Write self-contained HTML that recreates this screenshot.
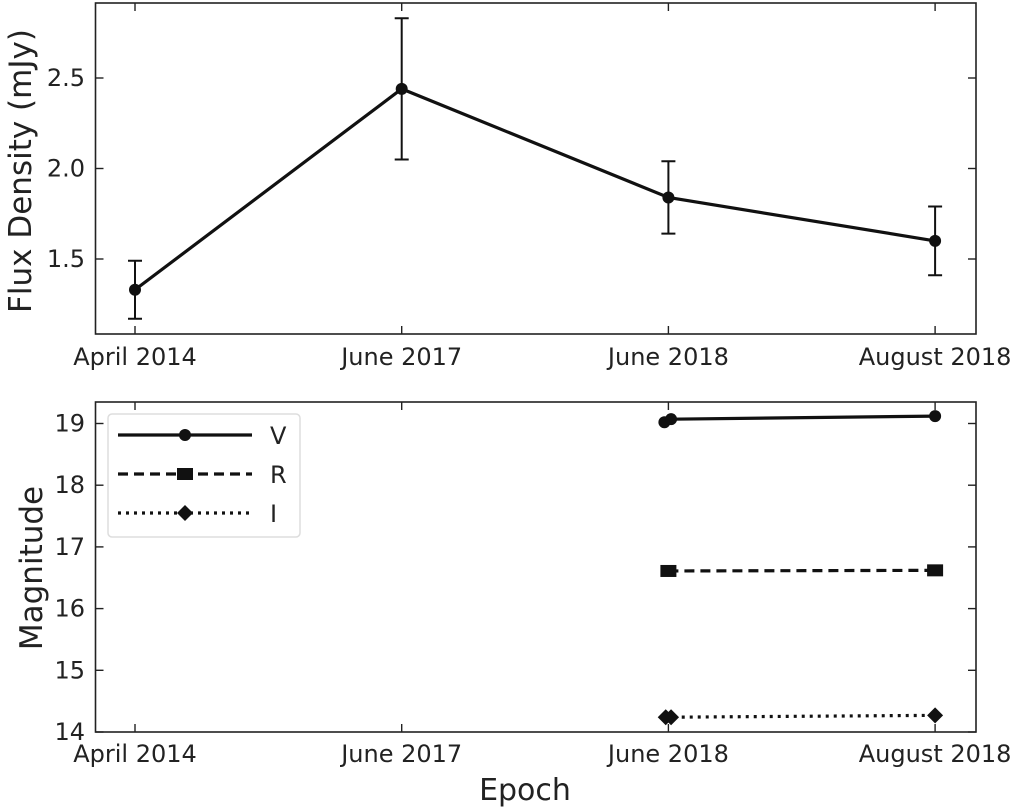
<!DOCTYPE html>
<html><head><meta charset="utf-8"><style>
html,body{margin:0;padding:0;background:#fff;}
svg{display:block;font-family:"DejaVu Sans","Liberation Sans",sans-serif;}
</style></head><body>
<svg id="chart" width="1020" height="811" viewBox="0 0 1020 811" xmlns="http://www.w3.org/2000/svg"></svg>
<script>
const epochLabels = ["April 2014","June 2017","June 2018","August 2018"];
const fluxX = [0,1,2,3];
const fluxVals = [1.33,2.44,1.84,1.60];
const fluxErr = [0.16,0.39,0.20,0.19];
const fluxTicks = [1.5,2.0,2.5];
const vX = [1.985,2.01,3];
const vVals = [19.02,19.07,19.12];
const rX = [2.0,3];
const rVals = [16.61,16.62];
const iX = [1.99,2.01,3];
const iVals = [14.24,14.24,14.27];
const magTicks = [14,15,16,17,18,19];

const NS="http://www.w3.org/2000/svg";
const svg=document.getElementById('chart');
function mk(tag,attrs,parent){const e=document.createElementNS(NS,tag);for(const k in attrs)e.setAttribute(k,attrs[k]);(parent||svg).appendChild(e);return e;}
const L=95.5,R=976;
const xS=i=>135+i*266.7;
const T1=3,B1=334;
const y1=v=>168.5-(v-2.0)*181;
const T2=402,B2=732;
const y2=v=>732-(v-14)*61.7;

function axesBox(top,bot,name){
  const r=mk('rect',{x:L,y:top,width:R-L,height:bot-top,fill:'none',stroke:'#222','stroke-width':1.6});
  
  
}
function xticks(top,bot,ly,grp){
  epochLabels.forEach((lab,i)=>{
    const x=xS(i);
    mk('line',{x1:x,x2:x,y1:bot,y2:bot-8,stroke:'#222','stroke-width':1.4},grp);
    mk('line',{x1:x,x2:x,y1:top,y2:top+8,stroke:'#222','stroke-width':1.4},grp);
    const t=mk('text',{x:x,y:ly,'text-anchor':'middle','font-size':24,fill:'#222'},grp);
    t.textContent=lab;
    
    
  });
}
function yticks(ticks,fy,fmt,grp){
  ticks.forEach(v=>{
    const y=fy(v);
    mk('line',{x1:L,x2:L+8,y1:y,y2:y,stroke:'#222','stroke-width':1.4},grp);
    mk('line',{x1:R,x2:R-8,y1:y,y2:y,stroke:'#222','stroke-width':1.4},grp);
    const t=mk('text',{x:85,y:y+8,'text-anchor':'end','font-size':24,fill:'#222'},grp);
    t.textContent=fmt(v);
    
    
  });
}
const g1=mk('g',{});


axesBox(T1,B1,'flux-axes');
xticks(T1,B1,365,g1);
yticks(fluxTicks,y1,v=>v.toFixed(1),g1);
const yl1=mk('text',{x:0,y:0,transform:'translate(31,171) rotate(-90)','text-anchor':'middle','font-size':31,fill:'#222'},g1);
yl1.textContent='Flux Density (mJy)';


const fl=mk('polyline',{points:fluxX.map((x,i)=>xS(x)+','+y1(fluxVals[i])).join(' '),fill:'none',stroke:'#111','stroke-width':3.2},g1);


fluxX.forEach((x,i)=>{
  const cx=xS(x),hi=y1(fluxVals[i]+fluxErr[i]),lo=y1(fluxVals[i]-fluxErr[i]);
  const eb=mk('path',{d:`M${cx},${hi}V${lo}M${cx-7},${hi}H${cx+7}M${cx-7},${lo}H${cx+7}`,stroke:'#111','stroke-width':2,fill:'none'},g1);
  
  
  const c=mk('circle',{cx:cx,cy:y1(fluxVals[i]),r:6,fill:'#111'},g1);
  
  
});
const g2=mk('g',{});


axesBox(T2,B2,'magnitude-axes');
xticks(T2,B2,762,g2);
yticks(magTicks,y2,v=>String(v),g2);
const yl2=mk('text',{x:0,y:0,transform:'translate(42,568) rotate(-90)','text-anchor':'middle','font-size':31,fill:'#222'},g2);
yl2.textContent='Magnitude';


const xl=mk('text',{x:525,y:800,'text-anchor':'middle','font-size':30,fill:'#222'},g2);
xl.textContent='Epoch';



function marker(kind,cx,cy,grp){
  let m;
  if(kind==='o') m=mk('circle',{cx:cx,cy:cy,r:6,fill:'#111'},grp);
  else if(kind==='s') m=mk('rect',{x:cx-8,y:cy-6,width:16,height:12,fill:'#111'},grp);
  else m=mk('path',{d:`M${cx},${cy-8}L${cx+8},${cy}L${cx},${cy+8}L${cx-8},${cy}Z`,fill:'#111'},grp);
  return m;
}
const series=[
  {n:'V',xs:vX,vs:vVals,dash:'',mk:'o'},
  {n:'R',xs:rX,vs:rVals,dash:'10,6',mk:'s'},
  {n:'I',xs:iX,vs:iVals,dash:'3,5',mk:'d'}
];
series.forEach(s=>{
  const ln=mk('polyline',{points:s.xs.map((x,i)=>xS(x)+','+y2(s.vs[i])).join(' '),fill:'none',stroke:'#111','stroke-width':3.2,'stroke-dasharray':s.dash},g2);
  
  
  s.xs.forEach((x,i)=>{
    const m=marker(s.mk,xS(x),y2(s.vs[i]),g2);
    
    
  });
});
const lg=mk('g',{});


mk('rect',{x:108,y:414,width:192,height:123,rx:4,fill:'#fff',stroke:'#ddd','stroke-width':1.5},lg);
series.forEach((s,k)=>{
  const y=435+k*39;
  const e=mk('g',{},lg);
  
  
  mk('line',{x1:118,x2:252,y1:y,y2:y,stroke:'#111','stroke-width':3.2,'stroke-dasharray':s.dash},e);
  marker(s.mk,185,y,e);
  const t=mk('text',{x:270,y:y+9,'font-size':24,fill:'#222'},e);
  t.textContent=s.n;
});
</script>
</body></html>
